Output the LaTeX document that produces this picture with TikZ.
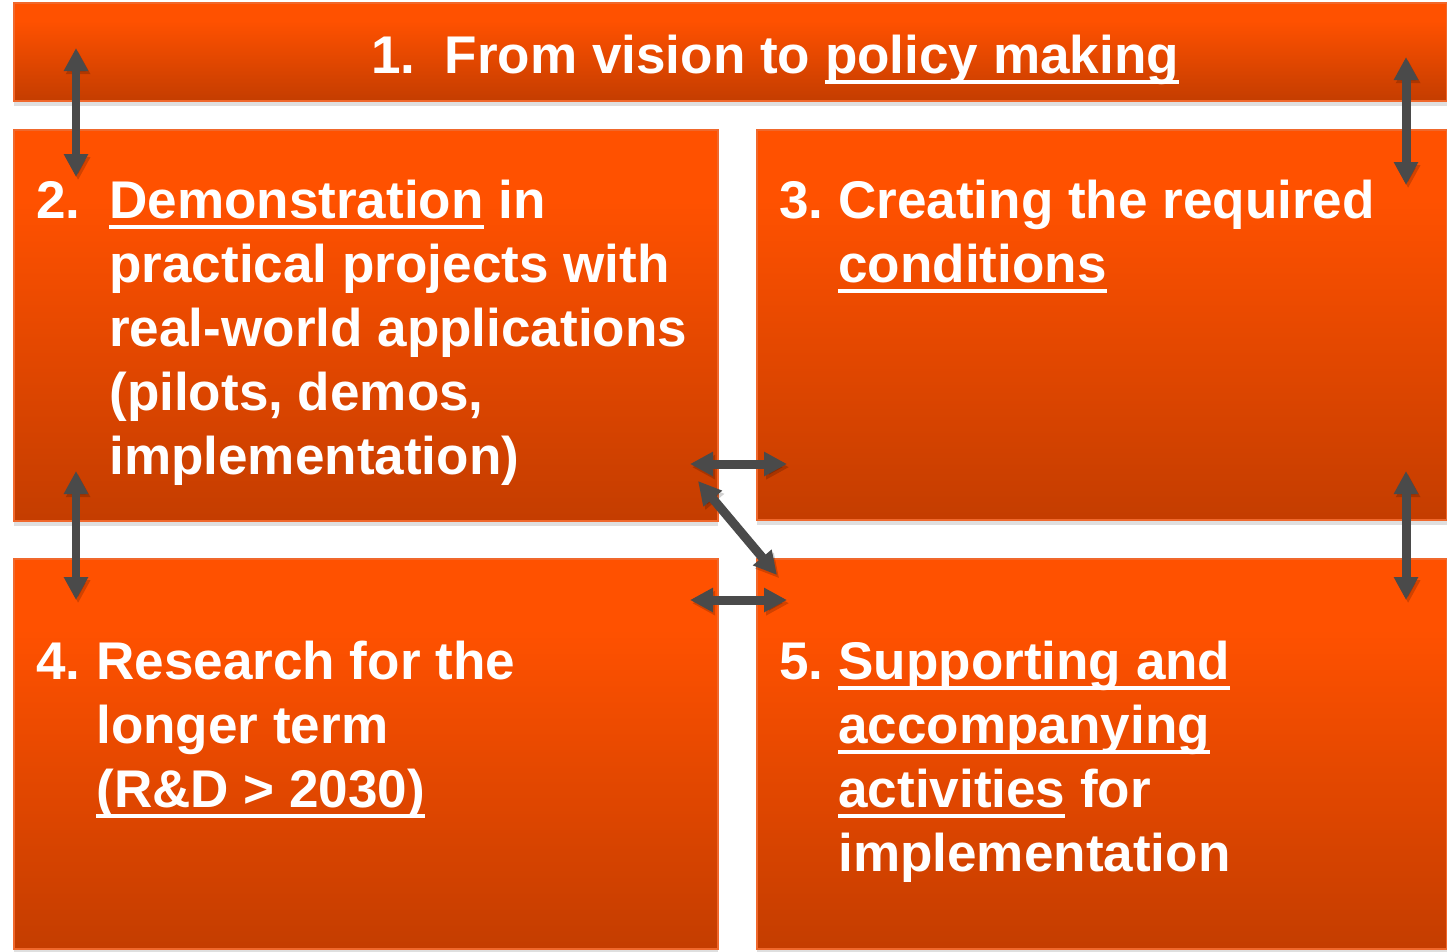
\documentclass[tikz,border=0pt]{standalone}
\usepackage{fontspec}
\setmainfont{Liberation Sans}
\usepackage{tikz}
\usetikzlibrary{arrows.meta}
\usetikzlibrary{shadows}

\definecolor{paneltop}{RGB}{255,81,0}
\definecolor{panelbot}{RGB}{196,61,0}
\definecolor{paneledge}{RGB}{240,104,44}
\definecolor{linkgray}{RGB}{74,74,74}

% bright in the upper part, darker towards the bottom
\pgfdeclareverticalshading{panelshade}{100bp}{color(0bp)=(panelbot); color(25bp)=(panelbot); color(66bp)=(paneltop); color(100bp)=(paneltop)}

% underline kept at a fixed depth below the baseline
\newcommand\ul[1]{\leavevmode\setbox0\hbox{#1}\rlap{\rule[-0.21cm]{\wd0}{0.08cm}}\box0\relax}

\tikzset{
	panel/.style={anchor=north west, inner sep=0pt, outer sep=0pt,
		shading=panelshade, draw=paneledge, line width=0.6pt,
		drop shadow={opacity=0.25, shadow xshift=0pt, shadow yshift=-3pt}},
	boxtext/.style={anchor=base west, inner sep=0pt, text=white,
		font=\fontsize{30.2}{36.5}\selectfont\bfseries},
	link/.style={linkgray, line width=0.18cm,
		{Triangle[length=0.46cm,width=0.46cm]}-{Triangle[length=0.46cm,width=0.46cm]},
		preaction={draw=black, opacity=0.18, transform canvas={xshift=1.2pt, yshift=-1.8pt}}}
}

\begin{document}
\begin{tikzpicture}[x=0.02cm, y=-0.02cm]
	
	\useasboundingbox (0,0) rectangle (1447,951);
	
	\node[panel, minimum width=1433*0.02cm, minimum height=98*0.02cm] (vision) at (14,3) {};
	\node[panel, minimum width=704*0.02cm, minimum height=391*0.02cm] (demo) at (14,130) {};
	\node[panel, minimum width=690*0.02cm, minimum height=390*0.02cm] (cond) at (757,130) {};
	\node[panel, minimum width=704*0.02cm, minimum height=390*0.02cm] (research) at (14,559) {};
	\node[panel, minimum width=690*0.02cm, minimum height=390*0.02cm] (support) at (757,559) {};
	
	\node[boxtext, anchor=base] (visiontext) at (775,73) {1.\ \ From vision to \ul{policy making}};
	
	\node[boxtext] (demonum) at (36,218) {2.};
	\node[boxtext] (demotext) at (109,218) {\parbox[t]{13cm}{\ul{Demonstration} in\\practical projects with\\real-world applications\\(pilots, demos,\\implementation)}};
	
	\node[boxtext] (condnum) at (779,218) {3.};
	\node[boxtext] (condtext) at (838,218) {\parbox[t]{12cm}{Creating the required\\\ul{conditions}}};
	
	\node[boxtext] (researchnum) at (36,679) {4.};
	\node[boxtext] (researchtext) at (96,679) {\parbox[t]{12cm}{Research for the\\longer term\\\ul{(R\&D > 2030)}}};
	
	\node[boxtext] (supportnum) at (779,679) {5.};
	\node[boxtext] (supporttext) at (838,679) {\parbox[t]{12cm}{\ul{Supporting and}\\\ul{accompanying}\\\ul{activities} for\\implementation}};
	
	% arrow ends
	\coordinate (l1a) at (76,48);
	\coordinate (l1b) at (76,177);
	\coordinate (r1a) at (1406,57);
	\coordinate (r1b) at (1406,185);
	\coordinate (l2a) at (76,471);
	\coordinate (l2b) at (76,600);
	\coordinate (r2a) at (1406,471);
	\coordinate (r2b) at (1406,600);
	\coordinate (h1a) at (690,464);
	\coordinate (h1b) at (787,464);
	\coordinate (h2a) at (690,600);
	\coordinate (h2b) at (787,600);
	\coordinate (da) at (698,481);
	\coordinate (db) at (777,575);
	
	\draw[link] (l1a) -- (l1b);
	\draw[link] (r1a) -- (r1b);
	\draw[link] (l2a) -- (l2b);
	\draw[link] (r2a) -- (r2b);
	\draw[link] (h1a) -- (h1b);
	\draw[link] (h2a) -- (h2b);
	\draw[link] (da) -- (db);
	
\end{tikzpicture}
\end{document}
